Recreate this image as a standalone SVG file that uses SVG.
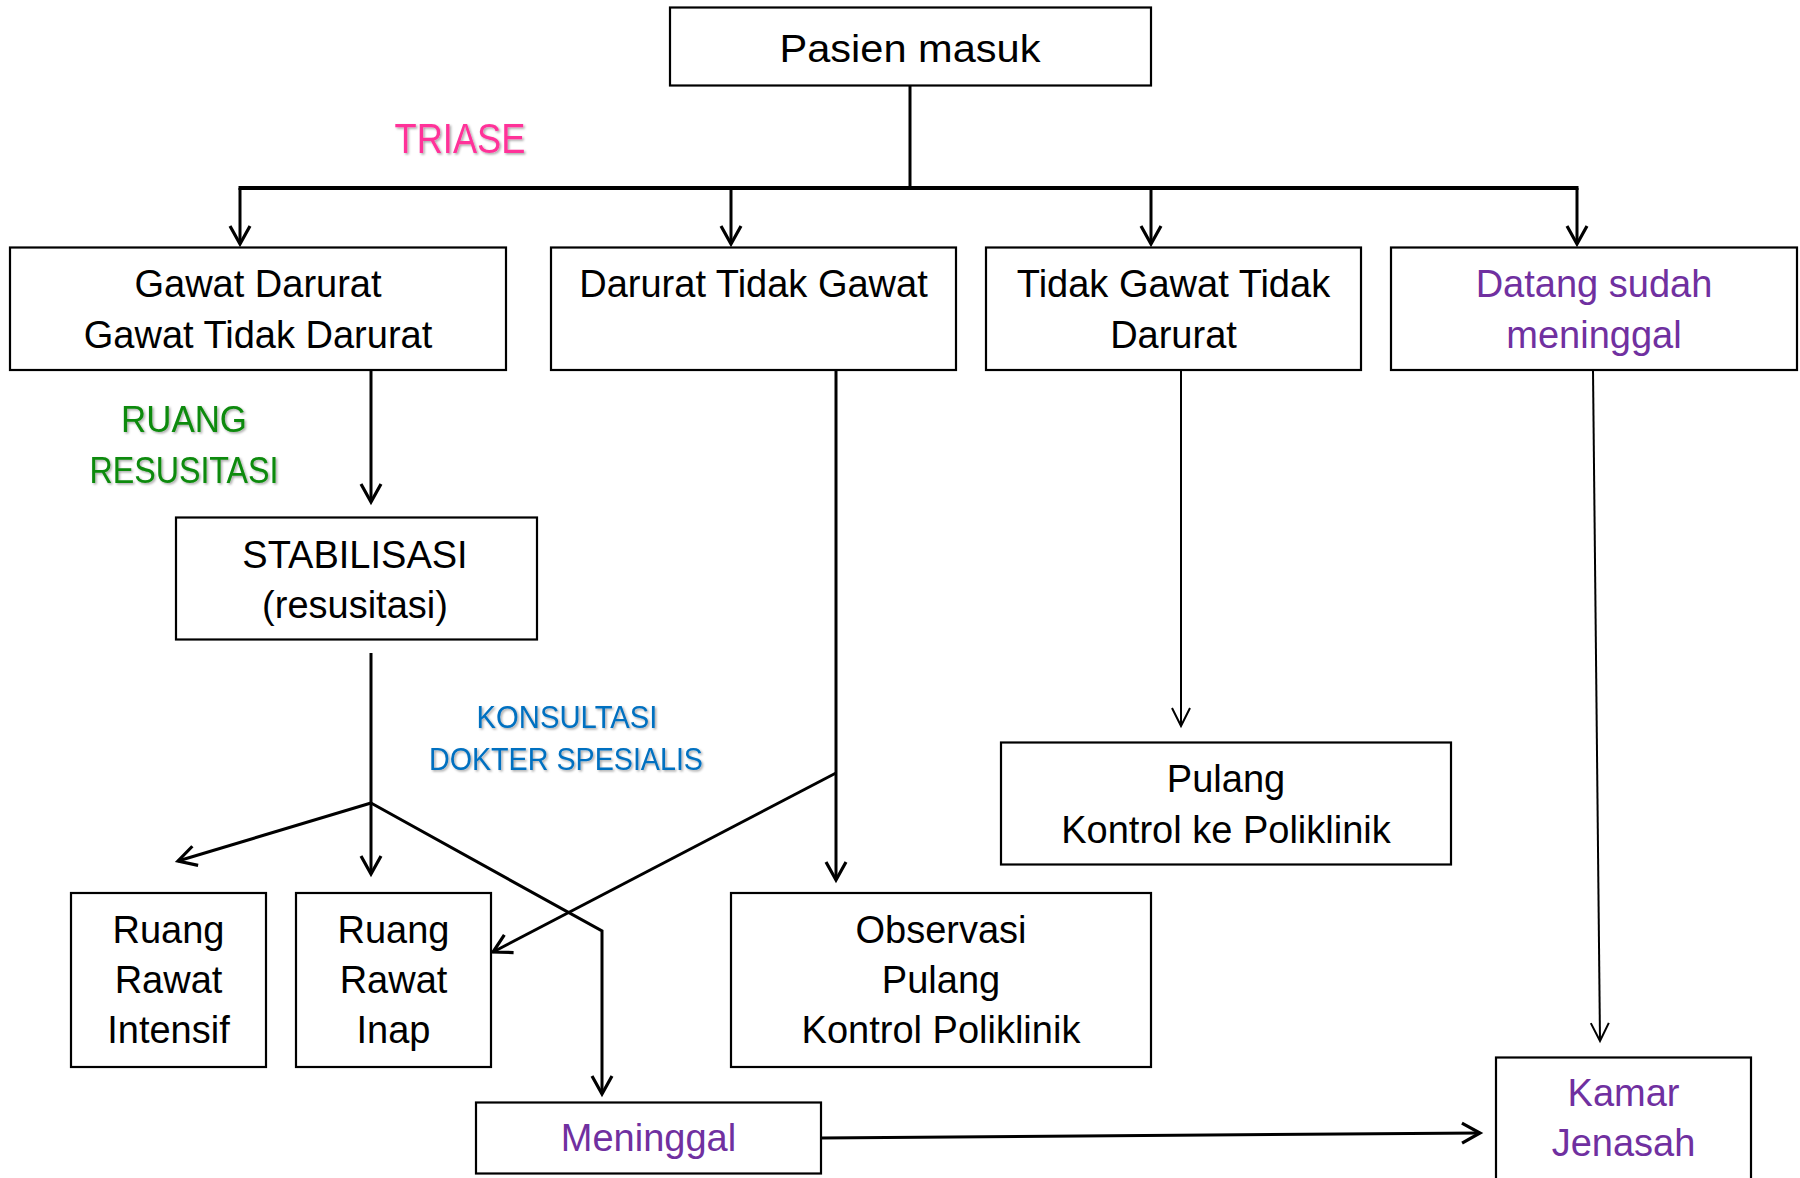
<svg xmlns="http://www.w3.org/2000/svg" width="1800" height="1178" viewBox="0 0 1800 1178">
<style>
.box{fill:#fff;stroke:#000;stroke-width:2.2}
.t{font-family:"Liberation Sans",Arial,sans-serif;font-size:38px;fill:#000;text-anchor:middle}
.p{fill:#7030A0}
.lbl{font-family:"Liberation Sans",Arial,sans-serif;text-anchor:middle;filter:url(#sh)}
.c{fill:none;stroke:#000;stroke-width:3;stroke-linejoin:miter}
.thin{fill:none;stroke:#000;stroke-width:2}
</style>
<defs>
<filter id="sh" x="-10%" y="-20%" width="130%" height="150%">
<feDropShadow dx="1.5" dy="1.5" stdDeviation="1" flood-color="#000" flood-opacity="0.35"/>
</filter>
<marker id="a" markerUnits="userSpaceOnUse" viewBox="-22 -13 26 26" refX="0" refY="0" markerWidth="26" markerHeight="26" orient="auto">
<path d="M-18,-10 L0,0 L-18,10" fill="none" stroke="#000" stroke-width="3.2"/>
</marker>
<marker id="b" markerUnits="userSpaceOnUse" viewBox="-22 -13 26 26" refX="0" refY="0" markerWidth="26" markerHeight="26" orient="auto">
<path d="M-18,-9 L0,0 L-18,9" fill="none" stroke="#000" stroke-width="2"/>
</marker>
</defs>
<rect width="1800" height="1178" fill="#fff"/>

<g id="connectors">
<line class="c" x1="910" y1="86" x2="910" y2="188"/>
<line x1="238.5" y1="188" x2="1578.5" y2="188" stroke="#000" stroke-width="4"/>
<line class="c" x1="240" y1="188" x2="240" y2="244" marker-end="url(#a)"/>
<line class="c" x1="731" y1="188" x2="731" y2="244" marker-end="url(#a)"/>
<line class="c" x1="1151" y1="188" x2="1151" y2="244" marker-end="url(#a)"/>
<line class="c" x1="1577" y1="188" x2="1577" y2="244" marker-end="url(#a)"/>
<line class="c" x1="371" y1="370" x2="371" y2="502" marker-end="url(#a)"/>
<line class="c" x1="371" y1="653" x2="371" y2="874" marker-end="url(#a)"/>
<line class="c" x1="371" y1="803" x2="178" y2="861" marker-end="url(#a)"/>
<polyline class="c" points="371,803 602,931 602,1094" marker-end="url(#a)"/>
<line class="c" x1="836" y1="370" x2="836" y2="880" marker-end="url(#a)"/>
<line class="c" x1="836" y1="773" x2="493" y2="952" marker-end="url(#a)"/>
<line class="thin" x1="1181" y1="370" x2="1181" y2="726" marker-end="url(#b)"/>
<line class="thin" x1="1593" y1="370" x2="1600" y2="1041" marker-end="url(#b)"/>
<line class="c" x1="821" y1="1138" x2="1480" y2="1133" marker-end="url(#a)"/>
</g>

<text class="lbl" x="460" y="153" font-size="42" fill="#FF3399" textLength="131" lengthAdjust="spacingAndGlyphs">TRIASE</text>
<text class="lbl" x="184" y="432" font-size="36" fill="#0A8A0A" textLength="126" lengthAdjust="spacingAndGlyphs">RUANG</text>
<text class="lbl" x="184" y="483" font-size="36" fill="#0A8A0A" textLength="189" lengthAdjust="spacingAndGlyphs">RESUSITASI</text>
<text class="lbl" x="567" y="728" font-size="31" fill="#0070C0" textLength="181" lengthAdjust="spacingAndGlyphs">KONSULTASI</text>
<text class="lbl" x="566" y="770" font-size="31" fill="#0070C0" textLength="274" lengthAdjust="spacingAndGlyphs">DOKTER SPESIALIS</text>

<g id="pasien-masuk">
<rect class="box" x="670" y="7.5" width="481" height="78"/>
<text class="t" x="910" y="62" font-size="43" textLength="261" lengthAdjust="spacingAndGlyphs">Pasien masuk</text>
</g>
<g id="gawat-darurat">
<rect class="box" x="10" y="247.5" width="496" height="122.5"/>
<text class="t" x="258" y="297">Gawat Darurat</text>
<text class="t" x="258" y="348">Gawat Tidak Darurat</text>
</g>
<g id="darurat-tidak-gawat">
<rect class="box" x="551" y="247.5" width="405" height="122.5"/>
<text class="t" x="753.5" y="297">Darurat Tidak Gawat</text>
</g>
<g id="tidak-gawat-tidak-darurat">
<rect class="box" x="986" y="247.5" width="375" height="122.5"/>
<text class="t" x="1173.5" y="297">Tidak Gawat Tidak</text>
<text class="t" x="1173.5" y="348">Darurat</text>
</g>
<g id="datang-sudah-meninggal">
<rect class="box" x="1391" y="247.5" width="406" height="122.5"/>
<text class="t p" x="1594" y="297">Datang sudah</text>
<text class="t p" x="1594" y="348">meninggal</text>
</g>
<g id="stabilisasi">
<rect class="box" x="176" y="517.5" width="361" height="122"/>
<text class="t" x="355" y="568">STABILISASI</text>
<text class="t" x="355" y="618">(resusitasi)</text>
</g>
<g id="pulang">
<rect class="box" x="1001" y="742.5" width="450" height="122"/>
<text class="t" x="1226" y="792">Pulang</text>
<text class="t" x="1226" y="843">Kontrol ke Poliklinik</text>
</g>
<g id="ruang-rawat-intensif">
<rect class="box" x="71" y="893" width="195" height="174"/>
<text class="t" x="168.5" y="943">Ruang</text>
<text class="t" x="168.5" y="993">Rawat</text>
<text class="t" x="168.5" y="1043">Intensif</text>
</g>
<g id="ruang-rawat-inap">
<rect class="box" x="296" y="893" width="195" height="174"/>
<text class="t" x="393.5" y="943">Ruang</text>
<text class="t" x="393.5" y="993">Rawat</text>
<text class="t" x="393.5" y="1043">Inap</text>
</g>
<g id="observasi">
<rect class="box" x="731" y="893" width="420" height="174"/>
<text class="t" x="941" y="943">Observasi</text>
<text class="t" x="941" y="993">Pulang</text>
<text class="t" x="941" y="1043">Kontrol Poliklinik</text>
</g>
<g id="meninggal">
<rect class="box" x="476" y="1102.5" width="345" height="71"/>
<text class="t p" x="648.5" y="1151">Meninggal</text>
</g>
<g id="kamar-jenasah">
<rect class="box" x="1496" y="1057.5" width="255" height="130"/>
<text class="t p" x="1623.5" y="1106">Kamar</text>
<text class="t p" x="1623.5" y="1156">Jenasah</text>
</g>
</svg>
